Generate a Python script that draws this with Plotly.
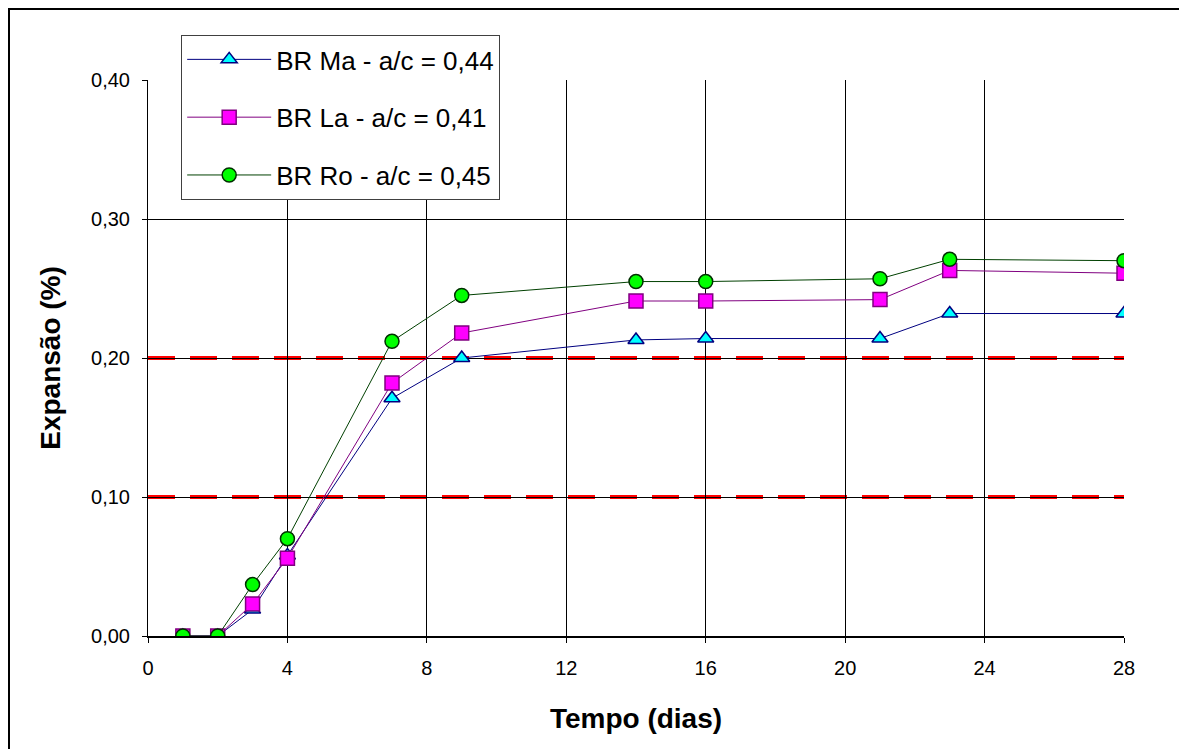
import plotly.graph_objects as go

dias = [1, 2, 3, 4, 7, 9, 14, 16, 21, 23, 28]
br_ma = [0.0, 0.0, 0.019, 0.058, 0.171, 0.200, 0.213, 0.214, 0.214, 0.232, 0.232]
br_la = [0.0, 0.0, 0.023, 0.056, 0.182, 0.218, 0.241, 0.241, 0.242, 0.263, 0.261]
br_ro = [0.0, 0.0, 0.037, 0.070, 0.212, 0.245, 0.255, 0.255, 0.257, 0.271, 0.270]
limites = [0.10, 0.20]

series = [
    ("BR Ma - a/c = 0,44", br_ma, "#000080", "triangle-up", "#00FFFF", "#000080"),
    ("BR La - a/c = 0,41", br_la, "#800080", "square", "#FF00FF", "#800080"),
    ("BR Ro - a/c = 0,45", br_ro, "#004000", "circle", "#00FF00", "#003000"),
]

FONT = "Liberation Sans, Arial, sans-serif"

fig = go.Figure()
for i, (name, vals, lc, sym, fc, oc) in enumerate(series):
    fig.add_trace(go.Scatter(
        x=dias, y=vals, name=name, mode="lines+markers",
        legendgroup=f"g{i}",
        line=dict(color=lc, width=1),
        marker=dict(symbol=sym, size=14, color=fc, line=dict(color=oc, width=1.5)),
    ))

for v in limites:
    fig.add_shape(type="line", xref="paper", x0=0, x1=1, yref="y", y0=v, y1=v,
                  line=dict(color="#FF0000", width=4, dash="27px,15px"), layer="below")

# outer frame (plot area spans figure px x 140..1116, y 72..628)
fig.add_shape(type="rect", xref="paper", yref="paper",
              x0=(1 - 140) / 976, x1=(1172 - 140) / 976,
              y0=(628 - 760) / 556, y1=(628 - 1) / 556,
              line=dict(color="black", width=2), fillcolor="rgba(0,0,0,0)")

fig.update_layout(
    width=1187, height=749,
    margin=dict(l=140, r=71, t=72, b=121),
    paper_bgcolor="white", plot_bgcolor="white",
    separators=",.",
    font=dict(family=FONT, color="black", size=20),
    showlegend=True,
    legend=dict(
        x=0.034, y=1.081, xanchor="left", yanchor="top",
        bgcolor="white", bordercolor="#404040", borderwidth=1,
        font=dict(size=26, color="black", family=FONT),
        tracegroupgap=21, itemwidth=84,
        entrywidth=330, entrywidthmode="pixels",
    ),
    xaxis=dict(
        range=[0, 28], tickvals=[0, 4, 8, 12, 16, 20, 24, 28],
        showgrid=True, gridcolor="black", gridwidth=1,
        showline=True, linecolor="black", linewidth=2,
        ticks="outside", ticklen=5, tickcolor="black", zeroline=False,
        tickfont=dict(size=20), ticklabelstandoff=8,
        title=dict(text="<b>Tempo (dias)</b>", font=dict(size=28), standoff=30),
    ),
    yaxis=dict(
        range=[0, 0.40], tickvals=[0, 0.1, 0.2, 0.3, 0.4], tickformat=".2f",
        showgrid=True, gridcolor="black", gridwidth=1,
        showline=True, linecolor="black", linewidth=1,
        ticks="outside", ticklen=5, tickcolor="black", zeroline=False,
        tickfont=dict(size=20), ticklabelstandoff=8,
        title=dict(text="<b>Expansão (%)</b>", font=dict(size=28), standoff=22),
    ),
)

fig.write_html("out.html")
